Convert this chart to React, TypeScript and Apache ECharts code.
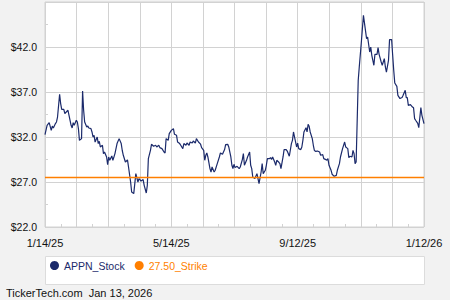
import React, { useEffect, useRef } from "react";
import * as echarts from "echarts";

// Day offsets from 1/14/25 and closing prices
const tradingDays: number[] = [
  0, 2, 4, 6, 7, 8, 10, 11, 12, 14, 15, 16, 18, 19, 21, 22, 23, 25, 26, 27, 28, 30, 31, 32, 33, 35, 36, 37, 38, 40,
  41, 42, 44, 45, 46, 47, 48, 50, 51, 52, 53, 55, 56, 57, 59, 60, 61, 62, 64, 65, 66, 67, 69, 71, 73, 74, 75, 77, 79, 80,
  82, 83, 85, 87, 89, 90, 92, 94, 95, 97, 98, 99, 101, 102, 104, 106, 107, 109, 110, 112, 114, 115, 116, 118, 119, 121, 123, 124, 126, 127,
  129, 130, 132, 133, 135, 136, 138, 139, 141, 142, 144, 145, 147, 149, 150, 152, 153, 154, 155, 156, 158, 159, 160, 162, 163, 165, 167, 168, 170, 172,
  173, 175, 176, 178, 179, 180, 181, 182, 184, 186, 187, 189, 190, 191, 193, 194, 196, 197, 198, 199, 201, 203, 204, 205, 207, 208, 209, 211, 212, 213,
  215, 216, 217, 218, 220, 221, 222, 224, 225, 226, 228, 229, 231, 232, 234, 236, 237, 238, 239, 241, 242, 243, 245, 246, 247, 248, 250, 251, 252, 253,
  254, 256, 257, 258, 259, 261, 263, 264, 266, 267, 269, 270, 271, 272, 274, 275, 277, 279, 280, 282, 283, 285, 287, 288, 290, 291, 292, 294, 295, 296,
  297, 298, 300, 301, 303, 305, 308, 309, 311, 312, 313, 315, 316, 318, 319, 320, 322, 323, 325, 326, 327, 329, 330, 332, 333, 334, 335, 337, 338, 340,
  342, 343, 345, 346, 347, 348, 350, 352, 353, 354, 355, 357, 358, 360, 361, 363,
];

const stockPrices: number[] = [
  32.27, 33.3, 33.6, 32.74, 33.22, 33.0, 33.49, 33.67, 34.22, 36.75, 35.71, 35.08, 35.08, 34.6, 34.86, 34.97, 34.41, 33.3, 33.0, 33.6, 33.3, 33.86, 33.67, 32.93, 31.63, 31.82, 37.1, 34.97, 33.67, 33.11,
  33.22, 33.0, 32.93, 32.56, 32.0, 32.19, 31.44, 32.0, 31.27, 31.52, 30.89, 31.08, 30.16, 30.33, 29.78, 28.93, 29.78, 29.41, 29.89, 29.41, 29.78, 30.16, 31.27, 31.82, 31.27, 30.5, 29.97, 29.22, 29.45, 28.67,
  27.0, 25.89, 25.71, 27.93, 27.0, 27.38, 27.11, 27.27, 26.63, 25.78, 26.63, 29.6, 30.52, 31.19, 30.97, 31.08, 30.89, 31.08, 30.82, 30.71, 30.33, 30.22, 31.82, 31.63, 32.38, 32.74, 32.93, 32.3, 32.19, 31.44,
  31.27, 31.08, 30.71, 31.27, 31.08, 31.33, 31.08, 31.44, 31.33, 31.56, 31.33, 31.82, 31.44, 31.2, 30.82, 30.52, 29.41, 29.97, 30.22, 29.78, 28.49, 28.11, 28.67, 28.11, 28.3, 29.04, 29.78, 30.22, 30.08, 30.6,
  31.16, 31.19, 30.89, 29.78, 28.86, 28.49, 28.97, 28.6, 28.74, 28.49, 28.67, 29.49, 30.16, 28.86, 29.41, 29.78, 30.33, 28.86, 28.49, 27.56, 27.38, 27.93, 27.38, 26.82, 28.11, 29.04, 27.93, 28.3, 28.86, 29.6,
  29.6, 29.71, 29.49, 29.78, 29.22, 28.86, 29.41, 29.19, 29.04, 28.49, 29.78, 30.6, 30.6, 30.44, 29.86, 31.27, 31.63, 32.56, 32.0, 30.89, 31.33, 30.71, 30.6, 30.89, 31.63, 32.56, 33.04, 32.56, 33.41, 33.19,
  32.56, 31.82, 31.08, 30.52, 30.41, 30.44, 30.33, 29.97, 30.04, 29.6, 29.49, 29.41, 29.6, 28.86, 28.3, 27.86, 27.63, 27.74, 28.3, 29.04, 29.78, 30.71, 31.44, 30.89, 30.71, 29.71, 29.86, 29.78, 30.52, 30.16,
  29.04, 29.22, 38.3, 39.78, 42.56, 45.52, 42.93, 43.11, 41.44, 42.0, 41.08, 39.97, 41.19, 41.19, 41.93, 41.19, 40.33, 39.97, 40.71, 39.78, 39.22, 40.52, 42.82, 42.82, 41.08, 39.41, 38.0, 37.63, 36.63, 36.27,
  36.38, 36.63, 37.19, 36.38, 36.38, 35.52, 35.6, 35.33, 35.24, 34.04, 33.86, 33.52, 33.04, 35.27, 34.41, 33.49,
];

const strikeValue = 27.5;
const xMin = 0;
const xMax = 363;
const xTickLabels: string[] = ["1/14/25", "5/14/25", "9/12/25", "1/12/26"];
const yMin = 22;
const yMax = 47;
const yInterval = 5;

const NAVY = "#1b2a6b";
const ORANGE = "#ff7f00";
const GRID = "#d2d2d2";
const FONT = "'Liberation Sans', Arial, sans-serif";

export default function App() {
  const ref = useRef<HTMLDivElement>(null);

  useEffect(() => {
    if (!ref.current) return;
    const chart = echarts.init(ref.current, undefined, { renderer: "svg" });
    const xInterval = (xMax - xMin) / 12;
    chart.setOption({
      animation: false,
      backgroundColor: "#f2f2f2",
      textStyle: { fontFamily: FONT },
      grid: {
        left: 45,
        right: 26,
        top: 2,
        bottom: 73,
        show: true,
        backgroundColor: "#ffffff",
        borderColor: GRID,
        borderWidth: 1,
      },
      xAxis: {
        type: "value",
        min: xMin,
        max: xMax,
        interval: xInterval,
        axisLine: { show: false },
        axisTick: { show: true, inside: true, length: 3, lineStyle: { color: GRID } },
        minorTick: { show: true, splitNumber: 2, length: 3, lineStyle: { color: GRID } },
        splitLine: { show: true, lineStyle: { color: GRID, width: 1 } },
        axisLabel: {
          margin: 10,
          color: "#111",
          fontSize: 11,
          fontFamily: FONT,
          formatter: (v: number) => {
            const idx = Math.round((v - xMin) / xInterval);
            if (idx % 4 !== 0) return "";
            return xTickLabels[idx / 4] ?? "";
          },
        },
      },
      yAxis: {
        type: "value",
        min: yMin,
        max: yMax,
        interval: yInterval,
        axisLine: { show: false },
        axisTick: { show: true, inside: true, length: 3, lineStyle: { color: GRID } },
        minorTick: { show: true, splitNumber: 2, length: 3, lineStyle: { color: GRID } },
        splitLine: { show: true, lineStyle: { color: GRID, width: 1 } },
        axisLabel: {
          margin: 8,
          color: "#111",
          fontSize: 10.5,
          fontFamily: FONT,
          showMaxLabel: false,
          formatter: (v: number) => (v >= yMax ? "" : "$" + v.toFixed(1)),
        },
      },
      legend: {
        left: 50,
        top: 260,
        padding: 0,
        itemWidth: 9,
        itemHeight: 9,
        itemGap: 10,
        icon: "circle",
        selectedMode: false,
        textStyle: { fontSize: 10.5, fontFamily: FONT },
        data: [
          { name: "APPN_Stock", textStyle: { color: NAVY } },
          { name: "27.50_Strike", textStyle: { color: ORANGE } },
        ],
      },
      graphic: [
        {
          type: "rect",
          z: 0,
          shape: { x: 45.5, y: 256.5, width: 379, height: 28 },
          style: { fill: "#ffffff", stroke: "#dcdcdc", lineWidth: 1 },
        },
        {
          type: "text",
          left: 6,
          top: 287,
          style: {
            text: "TickerTech.com  Jan 13, 2026",
            fill: "#111",
            font: `11px ${FONT}`,
          },
        },
      ],
      series: [
        {
          name: "APPN_Stock",
          type: "line",
          showSymbol: false,
          silent: true,
          itemStyle: { color: NAVY },
          lineStyle: { color: NAVY, width: 1.2 },
          data: tradingDays.map((d, i) => [d, stockPrices[i]]),
        },
        {
          name: "27.50_Strike",
          type: "line",
          showSymbol: false,
          silent: true,
          z: 3,
          itemStyle: { color: ORANGE },
          lineStyle: { color: ORANGE, width: 1.5, opacity: 1 },
          data: [
            [xMin, strikeValue],
            [xMax, strikeValue],
          ],
        },
      ],
    });
    return () => chart.dispose();
  }, []);

  return (
    <div
      ref={ref}
      style={{ position: "fixed", left: 0, top: 0, width: 450, height: 300 }}
    />
  );
}
